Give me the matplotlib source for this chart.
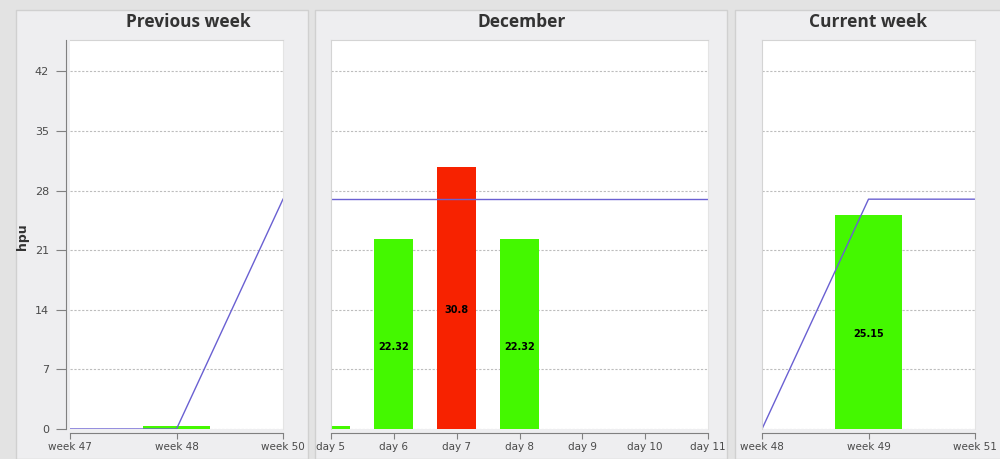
import matplotlib.pyplot as plt
from matplotlib.patches import Rectangle

# Data
prev_labels = ['week 47', 'week 48', 'week 50']
prev_values = [0, 0.3, 0]
prev_target = [0, 0, 27]

month_labels = ['day 5', 'day 6', 'day 7', 'day 8', 'day 9', 'day 10', 'day 11']
month_days = [5, 6, 7, 8, 9, 10, 11]
month_values = [0.3, 22.32, 30.8, 22.32, 0, 0, 0]
month_target = 27

cur_labels = ['week 48', 'week 49', 'week 51']
cur_values = [0, 25.15, 0]
cur_target = [0, 27, 27]

y_ticks = [0, 7, 14, 21, 28, 35, 42]

GREEN = '#44f800'
RED = '#f72200'
BLUE = '#6a60d2'
W, H = 1000, 459

fig = plt.figure(figsize=(10, 4.59), dpi=100, facecolor='#e3e3e3')

# panel backgrounds (pixel coords, top origin)
for x0, x1 in [(16, 308), (315, 727), (735, 1010)]:
    fig.patches.append(Rectangle((x0 / W, 0), (x1 - x0) / W, 1 - 10 / H,
                                 transform=fig.transFigure, facecolor='#eeeef0',
                                 edgecolor='#d0d0d0', lw=1, zorder=-10))


def make_ax(left, right):
    ax = fig.add_axes([left / W, 1 - 429 / H, (right - left) / W, 389 / H])
    ax.set_ylim(0, 45.7)
    ax.set_yticks(y_ticks)
    ax.set_axisbelow(True)
    ax.grid(axis='y', color='#bdbdbd', lw=0.8, linestyle=(0, (2, 1.5)))
    ax.spines['bottom'].set_position(('outward', 3))
    ax.spines['bottom'].set_color('#808080')
    ax.spines['top'].set_color('#d4d4d4')
    ax.spines['right'].set_color('#e4e4e4')
    ax.spines['left'].set_color('#808080')
    ax.tick_params(axis='x', length=4, color='#808080', labelsize=7.5,
                   labelcolor='#4a4a4a', pad=2)
    ax.tick_params(axis='y', length=7, color='#808080', labelsize=8,
                   labelcolor='#4a4a4a', pad=5)
    return ax


def label_bars(ax, xs, vals):
    for x, v in zip(xs, vals):
        if v > 1:
            ax.annotate(f'{v:g}', (x, v / 2), xytext=(0, -9), textcoords='offset points',
                        ha='center', va='center', fontsize=7, fontweight='bold')


# Previous week
ax1 = make_ax(70, 283)
xs1 = range(len(prev_labels))
ax1.bar(xs1, prev_values, width=0.62, color=GREEN)
ax1.plot(xs1, prev_target, color=BLUE, lw=1)
ax1.set_xlim(0, 2)
ax1.set_xticks(list(xs1))
ax1.set_xticklabels(prev_labels)
ax1.spines['left'].set_position(('outward', 3))

# December
ax2 = make_ax(331, 708)
colors = [RED if v > month_target else GREEN for v in month_values]
ax2.bar(month_days, month_values, width=0.62, color=colors)
ax2.axhline(month_target, color=BLUE, lw=1)
label_bars(ax2, month_days, month_values)
ax2.set_xlim(5, 11)
ax2.set_xticks(month_days)
ax2.set_xticklabels(month_labels)
ax2.tick_params(axis='y', left=False, labelleft=False)
ax2.spines['left'].set_color('#d4d4d4')

# Current week
ax3 = make_ax(762, 975)
xs3 = range(len(cur_labels))
ax3.bar(xs3, cur_values, width=0.62, color=GREEN)
ax3.plot(xs3, cur_target, color=BLUE, lw=1)
label_bars(ax3, xs3, cur_values)
ax3.set_xlim(0, 2)
ax3.set_xticks(list(xs3))
ax3.set_xticklabels(cur_labels)
ax3.tick_params(axis='y', left=False, labelleft=False)
ax3.spines['left'].set_color('#d4d4d4')

# titles and y label
for title, cx in [('Previous week', 188), ('December', 522), ('Current week', 868)]:
    fig.text(cx / W, 1 - 22 / H, title, ha='center', va='center',
             fontsize=12.5, fontweight='bold', color='#333333', family='Open Sans')
fig.text(23 / W, 1 - 237 / H, 'hpu', rotation=90, ha='center', va='center',
         fontsize=9, fontweight='bold', color='#333333')

fig.savefig('out.png', dpi=100, facecolor=fig.get_facecolor())
